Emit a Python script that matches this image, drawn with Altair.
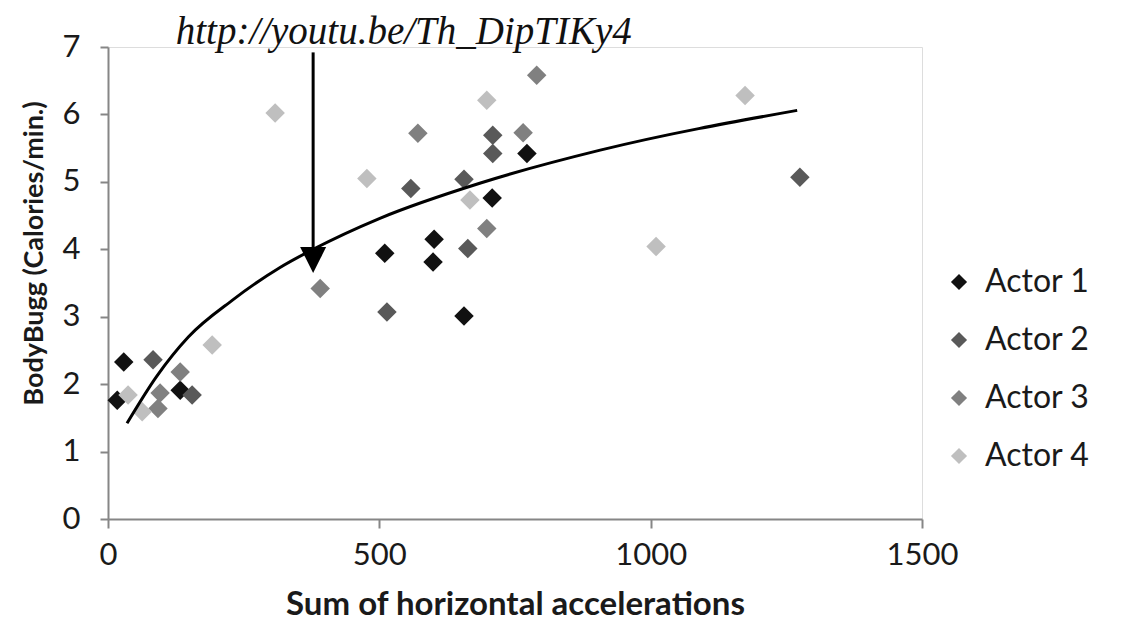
import altair as alt
import pandas as pd

# ---------------- data ----------------
actors = ["Actor 1", "Actor 2", "Actor 3", "Actor 4"]
actor1_x = [29, 17, 133, 510, 601, 599, 656, 708, 772]
actor1_y = [2.33, 1.76, 1.91, 3.94, 4.15, 3.81, 3.01, 4.76, 5.42]
actor2_x = [83, 155, 514, 558, 656, 663, 709, 709, 1275]
actor2_y = [2.36, 1.84, 3.07, 4.90, 5.04, 4.01, 5.69, 5.42, 5.07]
actor3_x = [133, 96, 92, 391, 571, 765, 790, 698]
actor3_y = [2.18, 1.87, 1.64, 3.42, 5.72, 5.73, 6.58, 4.31]
actor4_x = [37, 63, 192, 308, 477, 667, 698, 1174, 1010]
actor4_y = [1.84, 1.59, 2.58, 6.02, 5.05, 4.73, 6.21, 6.28, 4.04]
actor_colors = ["#111111", "#595959", "#808080", "#bfbfbf"]

# trend line
trend_x = [35, 90, 148, 230, 317, 378, 501, 685, 907, 1270]
trend_y = [1.42, 2.12, 2.70, 3.25, 3.73, 4.00, 4.46, 4.98, 5.47, 6.06]

# annotation
url_label = "http://youtu.be/Th_DipTIKy4"
label_x = [545]
label_y = [7.05]
arrow_x = [378]
arrow_top = [6.92]
arrow_head_y = [3.84]

x_ticks = [0, 500, 1000, 1500]
y_ticks = [0, 1, 2, 3, 4, 5, 6, 7]

# ---------------- tables ----------------
rows = []
for name, xs, ys in zip(actors, [actor1_x, actor2_x, actor3_x, actor4_x],
                        [actor1_y, actor2_y, actor3_y, actor4_y]):
    for xv, yv in zip(xs, ys):
        rows.append({"actor": name, "x": xv, "y": yv})
points_df = pd.DataFrame(rows)
trend_df = pd.DataFrame({"x": trend_x, "y": trend_y})
label_df = pd.DataFrame({"x": label_x, "y": label_y, "t": [url_label]})
arrow_df = pd.DataFrame({"x": arrow_x, "y": arrow_top, "y2": arrow_head_y})
head_df = pd.DataFrame({"x": arrow_x, "y": arrow_head_y})

FONT = "Lato"
AX = "#868686"
TXT = "#1a1a1a"

xscale = alt.Scale(domain=[0, 1500], nice=False, zero=True)
yscale = alt.Scale(domain=[0, 7], nice=False, zero=True)

x_axis = alt.Axis(
    values=x_ticks, format="d", grid=False, title="Sum of horizontal accelerations",
    labelFont=FONT, labelFontSize=31, labelColor=TXT,
    labelBaseline="alphabetic", labelPadding=36, labelFlush=False,
    tickSize=9, tickColor=AX, tickWidth=2, domainColor=AX, domainWidth=2,
    titleFont=FONT, titleFontSize=33, titleFontWeight="bold", titleColor=TXT,
    titleBaseline="alphabetic", titleY=95, titleX=407,
)
y_axis = alt.Axis(
    values=y_ticks, format="d", grid=False, title="BodyBugg (Calories/min.)",
    labelFont=FONT, labelFontSize=31, labelColor=TXT,
    labelPadding=20, labelFlush=False,
    tickSize=8, tickColor=AX, tickWidth=2, domainColor=AX, domainWidth=2,
    titleFont=FONT, titleFontSize=27, titleFontWeight="bold", titleColor=TXT,
    titleAngle=-90, titleBaseline="alphabetic", titleX=-66, titleY=206,
)

points = alt.Chart(points_df).mark_point(
    shape="diamond", filled=True, size=380, opacity=1
).encode(
    x=alt.X("x:Q", scale=xscale, axis=x_axis),
    y=alt.Y("y:Q", scale=yscale, axis=y_axis),
    color=alt.Color(
        "actor:N",
        scale=alt.Scale(domain=actors, range=actor_colors),
        legend=alt.Legend(
            title=None, orient="none", legendX=835, legendY=219,
            labelFont=FONT, labelFontSize=32, labelColor=TXT,
            symbolType="diamond", symbolSize=260, symbolStrokeWidth=0,
            rowPadding=26, labelOffset=10, padding=0,
        ),
    ),
)

trend = alt.Chart(trend_df).mark_line(
    color="#000000", strokeWidth=3, interpolate="monotone"
).encode(x=alt.X("x:Q", scale=xscale), y=alt.Y("y:Q", scale=yscale))

arrow = alt.Chart(arrow_df).mark_rule(color="#000000", strokeWidth=3).encode(
    x=alt.X("x:Q", scale=xscale), y=alt.Y("y:Q", scale=yscale), y2="y2:Q"
)

head = alt.Chart(head_df).mark_point(
    shape="M-1,-1L1,-1L0,1Z", filled=True, size=676, color="#000000", opacity=1
).encode(x=alt.X("x:Q", scale=xscale), y=alt.Y("y:Q", scale=yscale))

label = alt.Chart(label_df).mark_text(
    font="Liberation Serif", fontStyle="italic", fontSize=39,
    align="center", baseline="alphabetic", color="#111111"
).encode(x=alt.X("x:Q", scale=xscale), y=alt.Y("y:Q", scale=yscale), text="t:N")

chart = alt.layer(points, trend, arrow, head, label).properties(
    width=814, height=472,
    autosize=alt.AutoSizeParams(type="none"),
    padding={"left": 100, "top": 39, "right": 215, "bottom": 103},
).configure_view(stroke=None).configure(background="#ffffff")

chart.save("out.html", embed_options={"renderer": "svg", "actions": False})
